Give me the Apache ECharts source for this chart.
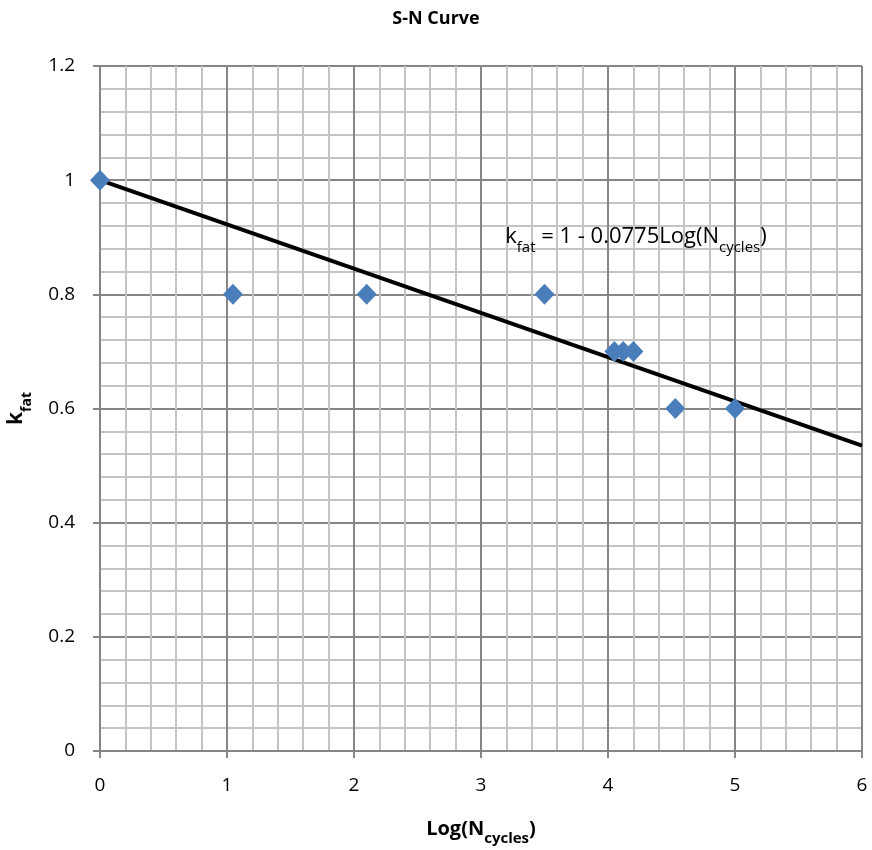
<!DOCTYPE html>
<html><head><meta charset="utf-8">
<script src="https://cdn.jsdelivr.net/npm/echarts@6/dist/echarts.min.js"></script>
<style>html,body{margin:0;padding:0;background:#fff}#c{width:872px;height:850px}</style>
</head><body><div id="c"></div>
<script>
const logN = [0, 1.047, 2.10, 3.50, 4.05, 4.12, 4.20, 4.53, 5.00];
const kfat = [1.0, 0.8, 0.8, 0.8, 0.7, 0.7, 0.7, 0.6, 0.6];
const fitIntercept = 1;
const fitSlope = -0.0775;
const fitX = [0, 6];
const xTicks = [0, 1, 2, 3, 4, 5, 6];
const yTicks = [0, 0.2, 0.4, 0.6, 0.8, 1.0, 1.2];

const FONT = '"Open Sans", "Liberation Sans", sans-serif';
const chart = echarts.init(document.getElementById('c'));
const gridStyle = {color: '#868686', width: 2};
const minorStyle = {color: '#c4c4c4', width: 2};
chart.setOption({
  animation: false,
  title: {text: 'S-N Curve', left: 'center', top: 5,
    textStyle: {fontFamily: FONT, fontSize: 18, fontWeight: 'bold', color: '#000'}},
  grid: {left: 100, right: 10, top: 66, bottom: 99, outerBoundsMode: 'none', containLabel: false},
  xAxis: {
    type: 'value', min: xTicks[0], max: xTicks[xTicks.length-1], interval: 1,
    name: '{b|Log(N}{s|cycles}{b|)}', nameLocation: 'middle', nameGap: 62,
    nameTextStyle: {rich: {
      b: {fontFamily: FONT, fontSize: 20, fontWeight: 'bold', color: '#000', verticalAlign: 'bottom', lineHeight: 26},
      s: {fontFamily: FONT, fontSize: 15, fontWeight: 'bold', color: '#000', verticalAlign: 'bottom', lineHeight: 16, padding: [0,0,-7,0]}
    }},
    axisLine: {show: true, onZero: false, lineStyle: gridStyle},
    axisTick: {show: true, length: 7, lineStyle: gridStyle},
    axisLabel: {fontFamily: FONT, fontSize: 19, color: '#000', margin: 25},
    splitLine: {show: true, lineStyle: gridStyle},
    minorTick: {show: false, splitNumber: 5},
    minorSplitLine: {show: true, lineStyle: minorStyle}
  },
  yAxis: {
    type: 'value', min: yTicks[0], max: yTicks[yTicks.length-1], interval: 0.2,
    name: '{b|k}{s|fat}', nameLocation: 'middle', nameGap: 73, nameRotate: 90,
    nameTextStyle: {rich: {
      b: {fontFamily: FONT, fontSize: 21, fontWeight: 'bold', color: '#000', lineHeight: 26, verticalAlign: 'bottom'},
      s: {fontFamily: FONT, fontSize: 14, fontWeight: 'bold', color: '#000', lineHeight: 16, verticalAlign: 'bottom', padding: [0,0,-7,0]}
    }},
    axisLine: {show: true, lineStyle: gridStyle},
    axisTick: {show: true, length: 7, lineStyle: gridStyle},
    axisLabel: {fontFamily: FONT, fontSize: 19, color: '#000', margin: 25,
      formatter: v => (Math.round(v*10)/10).toString()},
    splitLine: {show: true, lineStyle: gridStyle},
    minorTick: {show: false, splitNumber: 5},
    minorSplitLine: {show: true, lineStyle: minorStyle}
  },
  series: [
    {type: 'line', data: fitX.map(x => [x, fitIntercept + fitSlope * x]),
     symbol: 'none', lineStyle: {color: '#000', width: 4}, z: 3,
     markPoint: {symbol: 'circle', symbolSize: 0,
       data: [{coord: [4.22, 0.905], value: 0,
         label: {show: true, position: 'inside',
           formatter: '{n|k}{s|fat}{n| = 1 - 0.0775Log(N}{s|cycles}{n|)}',
           rich: {
             n: {fontFamily: FONT, fontSize: 22, color: '#000', verticalAlign: 'bottom', lineHeight: 27},
             s: {fontFamily: FONT, fontSize: 15, color: '#000', verticalAlign: 'bottom', lineHeight: 16, padding: [0,0,-7,0]}
           }}}]}},
    {type: 'scatter', data: logN.map((x, i) => [x, kfat[i]]),
     symbol: 'diamond', symbolSize: [20, 21], itemStyle: {color: '#4a7ebb', opacity: 1}, z: 4}
  ]
});
</script></body></html>
